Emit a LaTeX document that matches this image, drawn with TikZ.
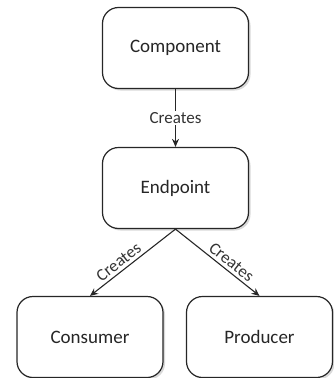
\documentclass[tikz,border=0pt]{standalone}
\usepackage{fontspec}
\setmainfont{Carlito}
\usetikzlibrary{arrows.meta,shadows}
\begin{document}
\begin{tikzpicture}[x=1pt,y=-1pt,
  box/.style={draw=black!85,line width=1.2pt,rounded corners=16pt,fill=white,
    minimum width=146pt,minimum height=81pt,inner sep=0pt,font=\fontsize{19}{22}\selectfont,
    text=black!85,
    drop shadow={shadow xshift=2pt,shadow yshift=-2pt,fill=black!25,opacity=0.6}},
  conn/.style={draw=black!85,line width=1.1pt,-{Stealth[length=8pt,width=7pt]}},
  lbl/.style={font=\fontsize{17}{20}\selectfont,text=black!80,inner sep=1pt}]
\useasboundingbox (0,0) rectangle (334,378);
\node[box] (comp) at (175.5,48) {Component};
\node[box] (endp) at (175.5,188) {Endpoint};
\node[box] (cons) at (90,337) {Consumer};
\node[box] (prod) at (259.5,337) {Producer};
\draw[conn] (comp.south) -- node[lbl,fill=white] {Creates} (endp.north);
\draw[conn] (endp.south) -- node[lbl,sloped,above=2pt,pos=0.6] {Creates} (cons.north);
\draw[conn] (endp.south) -- node[lbl,sloped,above=2pt,pos=0.6] {Creates} (prod.north);
\end{tikzpicture}
\end{document}
